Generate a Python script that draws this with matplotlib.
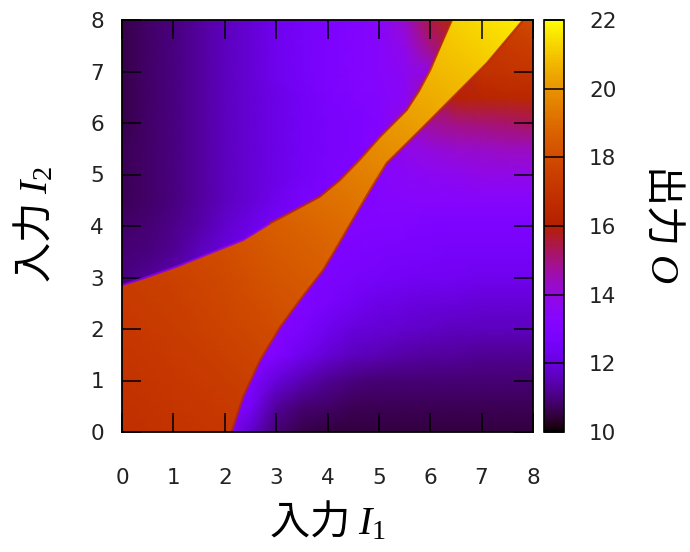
import numpy as np
import matplotlib
matplotlib.use('Agg')
import matplotlib.pyplot as plt
from matplotlib.patches import Polygon
from matplotlib.colors import Normalize
from matplotlib.cm import ScalarMappable

plt.rcParams['font.family'] = ['DejaVu Sans']
plt.rcParams['mathtext.fontset'] = 'custom'
plt.rcParams['mathtext.it'] = 'Liberation Serif:italic'
plt.rcParams['mathtext.rm'] = 'Liberation Serif'

# background (low) output, read on a 0.5 grid, rows from I2=8 down to I2=0
low_out = [
    [10.6, 10.8, 11.0, 11.3, 11.6, 11.9, 12.3, 12.6, 12.9, 13.1, 13.4, 14.2, 15.5, 16.5, 17.3, 17.6, 18.0],
    [10.6, 10.8, 11.0, 11.3, 11.6, 11.9, 12.3, 12.6, 12.9, 13.1, 13.3, 13.8, 15.0, 15.5, 17.0, 17.3, 17.5],
    [10.6, 10.8, 11.0, 11.3, 11.6, 11.9, 12.3, 12.6, 12.9, 13.1, 13.3, 13.6, 14.0, 15.5, 16.9, 17.0, 17.0],
    [10.6, 10.8, 11.0, 11.3, 11.6, 11.9, 12.2, 12.5, 12.8, 13.0, 13.2, 13.5, 15.0, 16.2, 16.3, 16.4, 16.4],
    [10.6, 10.8, 11.0, 11.3, 11.6, 11.9, 12.2, 12.5, 12.7, 12.9, 13.1, 14.0, 14.8, 15.0, 15.1, 15.2, 15.3],
    [10.7, 10.8, 11.0, 11.3, 11.6, 11.9, 12.2, 12.5, 12.7, 12.9, 13.2, 13.8, 14.0, 14.2, 14.3, 14.4, 14.4],
    [10.7, 10.8, 11.0, 11.3, 11.6, 11.9, 12.2, 12.5, 12.8, 13.0, 13.3, 13.5, 13.6, 13.7, 13.8, 13.8, 13.8],
    [10.7, 10.8, 11.0, 11.3, 11.6, 11.9, 12.3, 12.7, 12.9, 13.0, 13.2, 13.3, 13.3, 13.3, 13.3, 13.3, 13.3],
    [10.8, 10.9, 11.1, 11.4, 11.8, 12.2, 12.6, 12.8, 13.0, 13.1, 13.0, 13.0, 12.9, 12.9, 12.9, 12.9, 12.9],
    [10.9, 11.0, 11.2, 11.6, 12.0, 12.4, 12.6, 12.8, 13.0, 12.9, 12.8, 12.7, 12.7, 12.6, 12.6, 12.6, 12.6],
    [11.0, 11.2, 11.5, 11.8, 12.1, 12.4, 12.7, 12.9, 12.9, 12.7, 12.6, 12.5, 12.4, 12.4, 12.3, 12.3, 12.3],
    [11.0, 11.2, 11.5, 11.8, 12.2, 12.6, 13.0, 13.0, 12.7, 12.4, 12.2, 12.1, 12.0, 12.0, 11.9, 11.9, 11.9],
    [13.0, 13.0, 13.0, 13.0, 13.0, 13.0, 13.2, 12.8, 12.3, 12.0, 11.9, 11.8, 11.7, 11.6, 11.6, 11.6, 11.6],
    [13.0, 13.0, 13.0, 13.0, 13.0, 13.2, 13.0, 12.3, 11.9, 11.6, 11.5, 11.4, 11.3, 11.3, 11.2, 11.2, 11.2],
    [13.0, 13.0, 13.0, 13.0, 13.2, 13.0, 12.0, 11.5, 11.2, 11.0, 10.9, 10.9, 10.9, 10.9, 10.9, 10.9, 10.9],
    [13.0, 13.0, 13.0, 13.0, 13.4, 12.6, 11.3, 10.9, 10.8, 10.7, 10.7, 10.7, 10.7, 10.7, 10.7, 10.7, 10.7],
    [13.0, 13.0, 13.0, 13.0, 13.5, 11.8, 10.9, 10.6, 10.5, 10.5, 10.5, 10.5, 10.5, 10.5, 10.5, 10.5, 10.5],
]

# high output band, read on a 1.0 grid, rows from I2=8 down to I2=0
high_out = [
    [19.2, 19.6, 20.0, 20.4, 20.8, 20.9, 21.0, 21.4, 21.8],
    [18.8, 19.1, 19.5, 19.9, 20.3, 20.5, 20.7, 21.0, 21.3],
    [18.4, 18.7, 19.0, 19.4, 19.7, 20.0, 20.3, 20.6, 20.9],
    [18.0, 18.3, 18.6, 19.0, 19.3, 19.6, 19.9, 20.2, 20.5],
    [17.7, 17.9, 18.2, 18.6, 18.9, 19.2, 19.5, 19.8, 20.1],
    [17.4, 17.6, 17.9, 18.3, 18.6, 18.9, 19.2, 19.5, 19.8],
    [17.2, 17.4, 17.7, 18.0, 18.3, 18.6, 18.9, 19.2, 19.5],
    [17.0, 17.2, 17.4, 17.7, 18.0, 18.3, 18.6, 18.9, 19.2],
    [16.8, 17.0, 17.2, 17.5, 17.8, 18.1, 18.4, 18.7, 19.0],
]

# edges of the high band (I1, I2)
upper_edge = [(0, 2.85), (0.4, 2.98), (1.06, 3.21), (1.71, 3.47), (2.36, 3.73),
              (2.88, 4.05), (3.35, 4.30), (3.85, 4.57), (4.24, 4.89), (4.62, 5.28),
              (5.02, 5.73), (5.54, 6.25), (5.78, 6.62), (6.0, 7.03), (6.2, 7.5),
              (6.42, 8.0)]
lower_edge = [(2.13, 0), (2.36, 0.69), (2.69, 1.40), (3.08, 2.04), (3.46, 2.56),
              (3.92, 3.15), (4.20, 3.62), (4.48, 4.1), (4.80, 4.65), (5.15, 5.22),
              (5.80, 5.86), (6.45, 6.51), (7.10, 7.16), (7.81, 8.0)]

ticks = list(range(0, 9))
cb_ticks = [10, 12, 14, 16, 18, 20, 22]

fig = plt.figure(figsize=(6.9, 5.52), dpi=100)
ax = fig.add_axes([122 / 690, 120 / 552, 411 / 690, 412 / 552])
cax = fig.add_axes([544 / 690, 120 / 552, 20 / 690, 412 / 552])

norm = Normalize(vmin=10, vmax=22)
cmap = plt.get_cmap('gnuplot')

low = np.array(low_out)[::-1]
xl = np.linspace(0, 8, low.shape[1])
yl = np.linspace(0, 8, low.shape[0])
ax.pcolormesh(xl, yl, low, shading='gouraud', cmap=cmap, norm=norm)

high = np.array(high_out)[::-1]
xh = np.linspace(0, 8, high.shape[1])
yh = np.linspace(0, 8, high.shape[0])
mesh = ax.pcolormesh(xh, yh, high, shading='gouraud', cmap=cmap, norm=norm)
band = Polygon([(0, 0)] + lower_edge + upper_edge[::-1], closed=True,
               transform=ax.transData)
mesh.set_clip_path(band)

# thin transition rims along the band edges
ux, uy = zip(*upper_edge)
lx, ly = zip(*lower_edge)
ax.plot(ux[:6], uy[:6], color='#8a00f0', lw=1.6, alpha=0.8, solid_capstyle='butt')
ax.plot(ux[5:], uy[5:], color='#b82808', lw=1.6, alpha=0.8, solid_capstyle='butt')
ax.plot(lx, ly, color='#b82808', lw=1.6, alpha=0.8, solid_capstyle='butt')

ax.set_xlim(0, 8)
ax.set_ylim(0, 8)
ax.set_xticks(ticks)
ax.set_yticks(ticks)
ax.tick_params(axis='both', direction='in', length=13.5, width=1.1,
               top=True, right=True, labelsize=15.5, labelcolor='#222222')
ax.tick_params(axis='x', pad=26)
ax.tick_params(axis='y', pad=13)
for s in ax.spines.values():
    s.set_linewidth(1.3)
    s.set_zorder(5)

sm = ScalarMappable(norm=norm, cmap=cmap)
cb = fig.colorbar(sm, cax=cax, ticks=cb_ticks)
cb.outline.set_linewidth(1.2)
cax.tick_params(direction='in', length=7.5, width=1.1, left=True, right=True,
                labelsize=15.5, pad=18, labelcolor='#222222')

lab_font = ['Noto Sans CJK JP', 'DejaVu Sans']
fig.text(328 / 690, 1 - 521 / 552, r'入力 $\mathit{I}_{\mathit{1}}$', family=lab_font,
         fontsize=29, ha='center', va='center')
fig.text(34 / 690, 1 - 224 / 552, r'入力 $\mathit{I}_{\mathit{2}}$', family=lab_font,
         fontsize=29, ha='center', va='center', rotation=90)
fig.text(663 / 690, 1 - 224 / 552, r'出力 $\mathit{O}$', family=lab_font,
         fontsize=29, ha='center', va='center', rotation=270)

fig.savefig('out.png', dpi=100)
